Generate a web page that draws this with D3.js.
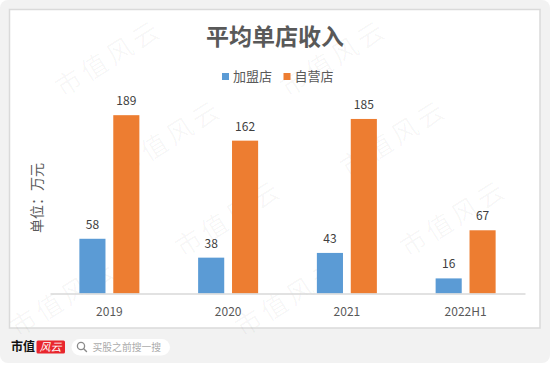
<!DOCTYPE html>
<html>
<head>
<meta charset="utf-8">
<script src="https://cdn.jsdelivr.net/npm/d3@7"></script>
<style>
  html, body { margin: 0; padding: 0; background: #fff; }
  svg { display: block; font-family: "Microsoft YaHei", "Noto Sans CJK SC", sans-serif; }
</style>
</head>
<body>
<svg id="chart" width="550" height="365"></svg>
<script>
// data
const categories = ["2019", "2020", "2021", "2022H1"];
const seriesNames = ["加盟店", "自营店"];
const franchise = [58, 38, 43, 16];
const selfRun = [189, 162, 185, 67];
const seriesColors = ["#5b9bd5", "#ed7d31"];

const W = 550, H = 365;
const svg = d3.select("#chart");

// page background + card
svg.append("rect").attr("x", 0).attr("y", 0).attr("width", W).attr("height", 363)
    .attr("rx", 8).attr("fill", "#f2f2f2");
svg.append("rect").attr("x", 9.5).attr("y", 9.5).attr("width", 530.5).attr("height", 318.5)
    .attr("fill", "#fff").attr("stroke", "#dadada").attr("stroke-width", 1.5);

// scales
const x0 = d3.scaleBand().domain(categories).range([50, 525]);
const x1 = d3.scaleBand().domain(seriesNames).range([-30, 30]).paddingInner(0.23);
const y = d3.scaleLinear().domain([0, 200]).range([293.5, 104.8]);

const rows = categories.map((c, i) => ({ cat: c, values: [franchise[i], selfRun[i]] }));

// watermarks (only those that fit inside the picture)
const wm = svg.append("g").attr("pointer-events", "none");
for (let j = 0; j < 4; j++) {
    for (let i = -1; i < 3; i++) {
        const cx = 110 + i * 225 + j * 60;
        const cy = 60 + j * 80;
        if (cx < 60 || cx > 490 || cy > 300) continue;
        wm.append("text")
            .attr("transform", `translate(${cx},${cy}) rotate(-32)`)
            .attr("text-anchor", "middle")
            .attr("dominant-baseline", "middle")
            .attr("fill", "#000")
            .attr("fill-opacity", 0.035)
            .attr("font-size", "26px")
            .attr("letter-spacing", "4px")
            .text("市值风云");
    }
}

// title
svg.append("text")
    .attr("x", 275).attr("y", 45)
    .attr("text-anchor", "middle")
    .attr("fill", "#595959")
    .attr("font-size", "23px")
    .attr("font-weight", "bold")
    .text("平均单店收入");

// legend
const legend = svg.append("g");
const legendX = [222, 283.5];
seriesNames.forEach((s, i) => {
    legend.append("rect")
        .attr("x", legendX[i]).attr("y", 73)
        .attr("width", 7).attr("height", 7)
        .attr("fill", seriesColors[i]);
    legend.append("text")
        .attr("x", legendX[i] + 11).attr("y", 80.5)
        .attr("fill", "#595959")
        .attr("font-size", "13px")
        .text(s);
});

// y label
svg.append("text")
    .attr("transform", "translate(42,198) rotate(-90)")
    .attr("text-anchor", "middle")
    .attr("fill", "#595959")
    .attr("font-size", "14px")
    .text("单位：万元");

// bars
const groups = svg.append("g").selectAll("g")
    .data(rows).join("g")
    .attr("transform", d => `translate(${x0(d.cat) + x0.bandwidth() / 2},0)`);

groups.selectAll("rect")
    .data(d => d.values.map((v, i) => ({ key: seriesNames[i], v, i })))
    .join("rect")
    .attr("x", d => x1(d.key))
    .attr("y", d => y(d.v))
    .attr("width", x1.bandwidth())
    .attr("height", d => y(0) - y(d.v))
    .attr("fill", d => seriesColors[d.i]);

groups.selectAll("text.val")
    .data(d => d.values.map((v, i) => ({ key: seriesNames[i], v, i })))
    .join("text")
    .attr("class", "val")
    .attr("x", d => x1(d.key) + x1.bandwidth() / 2)
    .attr("y", d => y(d.v) - 10)
    .attr("text-anchor", "middle")
    .attr("fill", "#404040")
    .attr("font-size", "12px")
    .text(d => d.v);

// x axis
const xAxis = svg.append("g")
    .attr("transform", `translate(0,${y(0)})`)
    .call(d3.axisBottom(x0).tickSize(0).tickPadding(14));
xAxis.select(".domain").attr("stroke", "#d9d9d9").attr("stroke-width", 1.5);
xAxis.selectAll("text")
    .attr("fill", "#595959")
    .attr("font-size", "12px")
    .attr("font-family", "\"Microsoft YaHei\", \"Noto Sans CJK SC\", sans-serif");

// footer
svg.append("text")
    .attr("x", 11).attr("y", 351)
    .attr("fill", "#111")
    .attr("font-size", "12px")
    .attr("font-weight", "bold")
    .text("市值");
svg.append("rect")
    .attr("x", 36.5).attr("y", 340.5).attr("width", 28.5).attr("height", 13)
    .attr("rx", 1.5).attr("fill", "#e8262d");
svg.append("text")
    .attr("x", 50.5).attr("y", 351)
    .attr("text-anchor", "middle")
    .attr("fill", "#fff")
    .attr("font-size", "11px")
    .attr("font-style", "italic")
    .text("风云");
svg.append("rect")
    .attr("x", 71.5).attr("y", 339).attr("width", 98.5).attr("height", 16.5)
    .attr("rx", 8.25).attr("fill", "#fff");
svg.append("circle")
    .attr("cx", 81).attr("cy", 346).attr("r", 3.6)
    .attr("fill", "none").attr("stroke", "#8a8a8a").attr("stroke-width", 1.3);
svg.append("line")
    .attr("x1", 83.7).attr("y1", 348.7).attr("x2", 86.5).attr("y2", 351.5)
    .attr("stroke", "#8a8a8a").attr("stroke-width", 1.4).attr("stroke-linecap", "round");
svg.append("text")
    .attr("x", 92.5).attr("y", 351)
    .attr("fill", "#ababab")
    .attr("font-size", "9.8px")
    .text("买股之前搜一搜");
</script>
</body>
</html>
